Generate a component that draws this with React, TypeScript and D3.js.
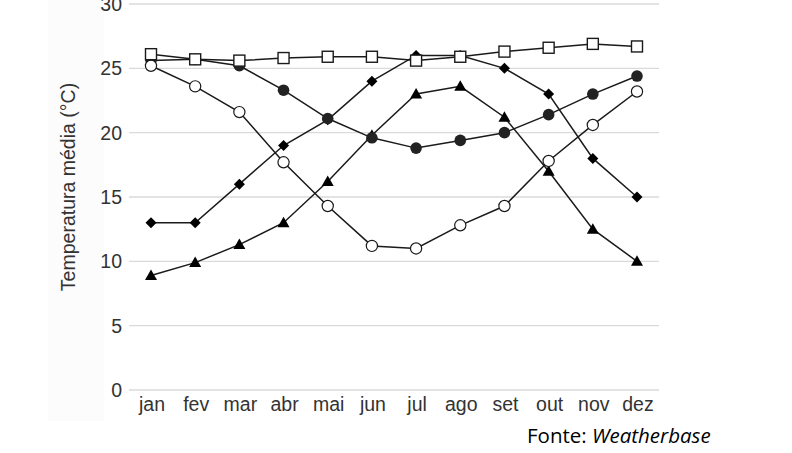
import * as d3 from "d3";

const months = ["jan", "fev", "mar", "abr", "mai", "jun", "jul", "ago", "set", "out", "nov", "dez"];
const yTicks = [0, 5, 10, 15, 20, 25, 30];

// one array per station
const squares = [26.1, 25.7, 25.6, 25.8, 25.9, 25.9, 25.6, 25.9, 26.3, 26.6, 26.9, 26.7];
const dots = [25.6, 25.7, 25.2, 23.3, 21.1, 19.6, 18.8, 19.4, 20.0, 21.4, 23.0, 24.4];
const rings = [25.2, 23.6, 21.6, 17.7, 14.3, 11.2, 11.0, 12.8, 14.3, 17.8, 20.6, 23.2];
const diamonds = [13.0, 13.0, 16.0, 19.0, 21.0, 24.0, 26.0, 26.0, 25.0, 23.0, 18.0, 15.0];
const triangles = [8.9, 9.9, 11.3, 13.0, 16.2, 19.8, 23.0, 23.6, 21.2, 17.0, 12.5, 10.0];

type Shape = "square" | "dot" | "ring" | "diamond" | "triangle";
const series: { values: number[]; shape: Shape }[] = [
  { values: triangles, shape: "triangle" },
  { values: diamonds, shape: "diamond" },
  { values: dots, shape: "dot" },
  { values: rings, shape: "ring" },
  { values: squares, shape: "square" },
];

const ink = "#1a1a1a";
const font = "Liberation Sans, Arial, sans-serif";
const gridLeft = 129, gridRight = 659;

function Marker({ shape, cx, cy }: { shape: Shape; cx: number; cy: number }) {
  if (shape === "square")
    return <rect x={cx - 5.5} y={cy - 5.5} width={11} height={11} fill="#fff" stroke={ink} strokeWidth={1.4} />;
  if (shape === "dot") return <circle cx={cx} cy={cy} r={5.8} fill="#222" />;
  if (shape === "ring") return <circle cx={cx} cy={cy} r={5.6} fill="#fff" stroke={ink} strokeWidth={1.2} />;
  if (shape === "diamond") return <path d={`M${cx},${cy - 5.5}L${cx + 5.5},${cy}L${cx},${cy + 5.5}L${cx - 5.5},${cy}Z`} fill="#000" />;
  return <path d={`M${cx},${cy - 6}L${cx + 6},${cy + 4.5}L${cx - 6},${cy + 4.5}Z`} fill="#000" />;
}

export default function App() {
  const x = d3.scalePoint<string>().domain(months).range([151, 637]);
  const y = d3.scaleLinear().domain([0, 30]).range([390, 4]);
  const line = d3.line<number>().x((_, i) => x(months[i])!).y((v) => y(v));

  return (
    <svg width={792} height={453} style={{ position: "absolute", left: 0, top: 0, background: "#fff" }}>
      <rect x={48} y={0} width={56} height={421} fill="#fcfcfc" />
      {yTicks.map((t) => (
        <g key={t}>
          <line x1={gridLeft} x2={gridRight} y1={y(t)} y2={y(t)} stroke="#dadada" strokeWidth={1.4} />
          <text x={122} y={y(t) + 7} textAnchor="end" fontSize={19.5} fontFamily={font} fill="#333">{t}</text>
        </g>
      ))}
      {months.map((m) => (
        <text key={m} x={x(m)! + 1} y={411} textAnchor="middle" fontSize={19.5} fontFamily={font} fill="#333">{m}</text>
      ))}
      <text transform="translate(75,187) rotate(-90)" textAnchor="middle" fontSize={19.5} fontFamily={font} fill="#333">Temperatura média (°C)</text>
      {series.map((s) => (
        <path key={s.shape} d={line(s.values)!} fill="none" stroke={ink} strokeWidth={1.5} />
      ))}
      {series.map((s) =>
        s.values.map((v, i) => <Marker key={s.shape + i} shape={s.shape} cx={x(months[i])!} cy={y(v)} />)
      )}
      <text x={527} y={443} fontSize={20.5} fontFamily="Open Sans, sans-serif" fill="#000">
        Fonte: <tspan fontStyle="italic">Weatherbase</tspan>
      </text>
    </svg>
  );
}
